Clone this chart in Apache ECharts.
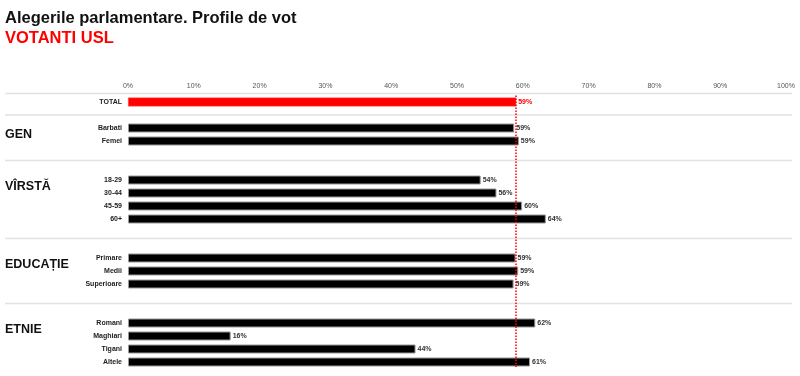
<!DOCTYPE html>
<html lang="ro">
<head>
    <meta charset="UTF-8">
    <title>Profile de vot</title>
    <script src="https://cdn.jsdelivr.net/npm/echarts@6/dist/echarts.min.js"></script>
    <style>
        html, body { margin: 0; padding: 0; background: #fff; }
    </style>
</head>
<body>
<div id="main" style="width:800px;height:376px;"></div>
<script>
    // date
    const totalLabel = 'TOTAL';
    const totalValue = 59.0;
    const groupNames = ['GEN', 'VÎRSTĂ', 'EDUCAȚIE', 'ETNIE'];
    const genCats = ['Barbati', 'Femei'];
    const genVals = [58.7, 59.4];
    const varstaCats = ['18-29', '30-44', '45-59', '60+'];
    const varstaVals = [53.6, 56.0, 59.9, 63.5];
    const educatieCats = ['Primare', 'Medii', 'Superioare'];
    const educatieVals = [58.9, 59.3, 58.6];
    const etnieCats = ['Romani', 'Maghiari', 'Tigani', 'Altele'];
    const etnieVals = [61.9, 15.6, 43.7, 61.1];
    const xTicks = [0, 10, 20, 30, 40, 50, 60, 70, 80, 90, 100];

    const groupCats = [genCats, varstaCats, educatieCats, etnieCats];
    const groupVals = [genVals, varstaVals, educatieVals, etnieVals];

    // construim lista de categorii cu randuri goale intre grupuri
    let categories = [totalLabel, '_g0'];
    let values = [totalValue, null];
    let groupStart = [];
    let separators = [1];   // index rand gol unde se pune linia
    let gap = 1;
    groupCats.forEach((cats, gi) => {
        if (gi > 0) {
            separators.push(categories.length + 0.5);
            categories.push('_g' + (gap++), '_g' + (gap++));
            values.push(null, null);
        }
        groupStart.push(categories.length);
        cats.forEach((c, i) => {
            categories.push(c);
            values.push(groupVals[gi][i]);
        });
    });

    const font = 'Liberation Sans, Arial, sans-serif';
    const myChart = echarts.init(document.getElementById('main'));

    const option = {
        animation: false,
        textStyle: { fontFamily: font },
        title: {
            text: 'Alegerile parlamentare. Profile de vot',
            subtext: 'VOTANTI USL',
            left: 0,
            top: 5,
            itemGap: 3,
            textStyle: { fontFamily: font, fontSize: 16.5, fontWeight: 'bold', color: '#111' },
            subtextStyle: { fontFamily: font, fontSize: 16.5, fontWeight: 'bold', color: '#ff0000' }
        },
        grid: { left: 128, right: 14, top: 95.5, bottom: 7.5 },
        xAxis: {
            type: 'value',
            position: 'top',
            min: 0,
            max: 100,
            interval: 10,
            axisLine: { show: false },
            axisTick: { show: false },
            splitLine: { show: false },
            axisLabel: {
                margin: 6,
                fontSize: 7,
                color: '#555',
                formatter: v => xTicks.includes(v) ? v + '%' : ''
            }
        },
        yAxis: {
            type: 'category',
            inverse: true,
            data: categories,
            axisLine: { show: false },
            axisTick: { show: false },
            axisLabel: {
                margin: 6,
                fontSize: 7,
                fontWeight: 'bold',
                color: '#222',
                formatter: v => v.startsWith('_') ? '' : v
            }
        },
        series: [{
            type: 'bar',
            barWidth: 9,
            data: values.map((v, i) => v === null ? null : {
                value: v,
                itemStyle: i === 0
                    ? { color: '#ff0000', borderColor: '#ff6666', borderWidth: 0.5 }
                    : { color: '#000', borderColor: '#999', borderWidth: 1 },
                label: i === 0 ? { color: '#ff0000' } : {}
            }),
            label: {
                show: true,
                position: 'right',
                distance: 2,
                fontSize: 7,
                fontWeight: 'bold',
                color: '#333',
                formatter: p => Math.round(p.value) + '%'
            },
            markLine: {
                silent: true,
                symbol: 'none',
                label: { show: false },
                lineStyle: { color: '#ff0000', type: 'dotted', width: 1.5 },
                data: [{ xAxis: totalValue }]
            }
        }]
    };
    myChart.setOption(option);

    // linii separatoare si etichete de grup
    const rowY = i => myChart.convertToPixel({ yAxisIndex: 0 }, i);
    const rowH = rowY(1) - rowY(0);
    let graphics = [];
    const lineStyle = { stroke: '#e2e2e2', lineWidth: 1.5 };
    const topY = rowY(0) - rowH * 0.65;
    graphics.push({ type: 'line', shape: { x1: 5, y1: topY, x2: 792, y2: topY }, style: lineStyle, silent: true });
    separators.forEach(s => {
        const y = rowY(Math.floor(s)) + (s % 1) * rowH;
        graphics.push({ type: 'line', shape: { x1: 5, y1: y, x2: 792, y2: y }, style: lineStyle, silent: true });
    });
    groupNames.forEach((name, gi) => {
        graphics.push({
            type: 'text',
            left: 5,
            top: rowY(groupStart[gi]),
            style: { text: name, font: 'bold 12.5px ' + font, fill: '#111' },
            silent: true
        });
    });
    myChart.setOption({ graphic: graphics });
</script>
</body>
</html>
